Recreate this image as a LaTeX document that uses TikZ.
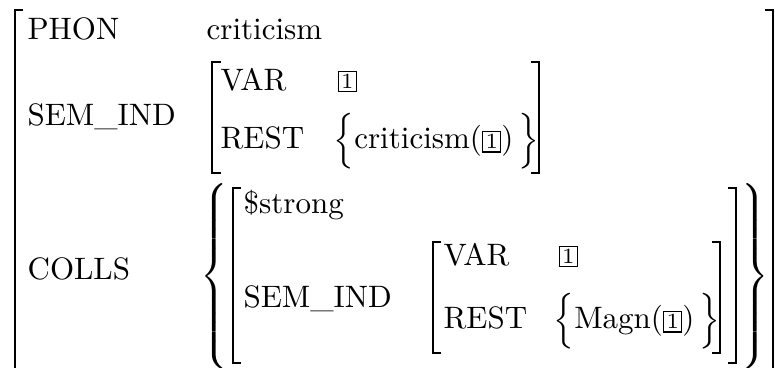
\documentclass[tikz,border=0pt]{standalone}
\newcommand{\tagbox}{\setlength{\fboxsep}{0.75pt}\setlength{\fboxrule}{0.4pt}\fbox{\scriptsize 1}}
\newcommand{\tagone}{\raisebox{0.8pt}{\tagbox}}
\newcommand{\myLbrace}[1]{$\delimitershortfall=0pt\delimiterfactor=1000\left\{\vrule height #1 depth #1 width 0pt\right.$}
\newcommand{\myRbrace}[1]{$\delimitershortfall=0pt\delimiterfactor=1000\left.\vrule height #1 depth #1 width 0pt\right\}$}
\tikzset{
  lbl/.style={anchor=base west, inner sep=0pt, font=\fontsize{10}{12}\selectfont},
  brk/.style={line width=0.5pt},
  dlm/.style={anchor=center, inner sep=0pt}
}
\begin{document}
\begin{tikzpicture}[x=0.3226pt,y=-0.3226pt]
\useasboundingbox (0,0) rectangle (775,368);
% outer brackets
\draw[brk] (23,10) -- (15,10) -- (15,368);
\draw[brk] (765,10) -- (773,10) -- (773,368);
% top level rows
\node[lbl] (phon) at (27,40) {PHON};
\node[lbl] (phonv) at (206,40) {criticism};
\node[lbl] (sem) at (27,126) {SEM\_IND};
% SEM_IND value
\draw[brk] (221,62) -- (212,62) -- (212,173) -- (221,173);
\draw[brk] (531,62) -- (539,62) -- (539,173) -- (531,173);
\node[lbl] (var1) at (220,91) {VAR};
\node[lbl] (var1v) at (337,91) {\tagone};
\node[lbl] (rest1) at (220,149) {REST};
\node[lbl] (rest1v) at (333,149) {$\Big\{$criticism(\tagbox)$\,\Big\}$};
% COLLS
\node[lbl] (colls) at (27,280) {COLLS};
\node[dlm] (lb) at (216,276.5) {\myLbrace{25.5pt}};
\node[dlm] (rb) at (753,276.5) {\myRbrace{25.5pt}};
\draw[brk] (241,188) -- (233,188) -- (233,363) -- (241,363);
\draw[brk] (728,188) -- (736,188) -- (736,363) -- (728,363);
\node[lbl] (strong) at (243,214) {\$strong};
\node[lbl] (sem2) at (243,308) {SEM\_IND};
\draw[brk] (441,242) -- (433,242) -- (433,353) -- (441,353);
\draw[brk] (712,242) -- (720,242) -- (720,353) -- (712,353);
\node[lbl] (var2) at (443,266) {VAR};
\node[lbl] (var2v) at (558,266) {\tagone};
\node[lbl] (rest2) at (443,329) {REST};
\node[lbl] (rest2v) at (553,329) {$\Big\{$Magn(\tagbox)$\,\Big\}$};
\end{tikzpicture}
\end{document}
